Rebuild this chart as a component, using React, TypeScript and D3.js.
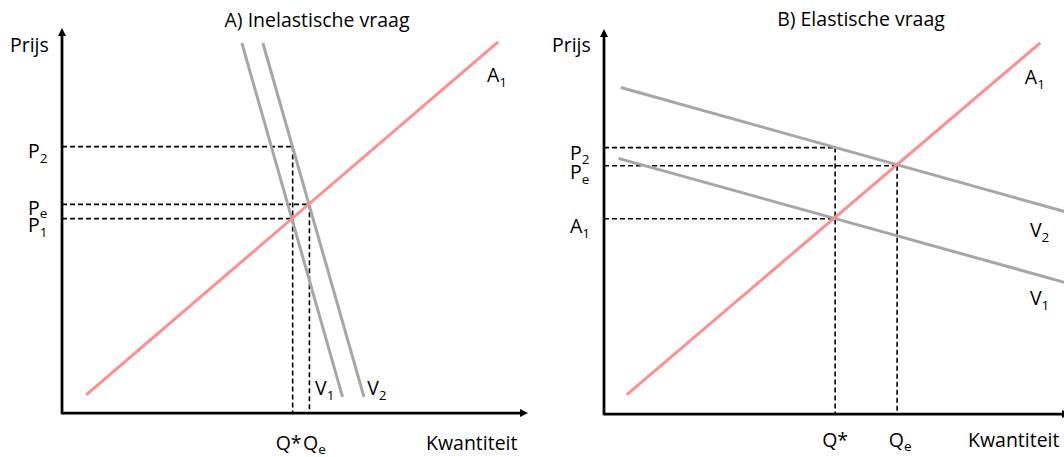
import React from "react";
import * as d3 from "d3";

// ---------------- DATA ----------------
// Panel A: inelastic demand (quantity q, price p on a 0..100 scale)
const titleA = "A) Inelastische vraag";
const supplyA = [{ q: 5.2, p: 4.7 }, { q: 93.6, p: 96.4 }];
const demandA1 = [{ q: 38.6, p: 96.1 }, { q: 60.2, p: 4.2 }];
const demandA2 = [{ q: 43.1, p: 96.1 }, { q: 64.8, p: 4.2 }];
const priceLevelsA = [
  { main: "P", sub: "2", p: 69.2, q: 49.5 },
  { main: "P", sub: "e", p: 54.2, q: 53.1 },
  { main: "P", sub: "1", p: 50.5, q: 49.5 },
];
const quantityLevelsA = [
  { main: "Q*", sub: "", q: 49.5, p: 69.2 },
  { main: "Q", sub: "e", q: 53.1, p: 54.2 },
];

// Panel B: elastic demand
const titleB = "B) Elastische vraag";
const supplyB = [{ q: 4.9, p: 5.05 }, { q: 93.6, p: 96.4 }];
const demandB1 = [{ q: 3.1, p: 66.4 }, { q: 100, p: 33.8 }];
const demandB2 = [{ q: 3.6, p: 84.8 }, { q: 100, p: 52.2 }];
const priceLevelsB = [
  { main: "P", sub: "2", p: 69.2, q: 49.6 },
  { main: "P", sub: "e", p: 64.5, q: 62.9 },
  { main: "A", sub: "1", p: 50.7, q: 49.6 },
];
const quantityLevelsB = [
  { main: "Q*", sub: "", q: 49.6, p: 69.2 },
  { main: "Q", sub: "e", q: 62.9, p: 64.5 },
];

const axisLabelY = "Prijs";
const axisLabelX = "Kwantiteit";
const supplyName = { main: "A", sub: "1" };
const demandNames = [{ main: "V", sub: "1" }, { main: "V", sub: "2" }];

// ---------------- LAYOUT / STYLE ----------------
const FONT = "'Open Sans', 'Noto Sans', sans-serif";
const FS = 19.5;
const SUB_FS = 13.5;
const SUPPLY_COLOR = "#FF8E8E";
const DEMAND_COLOR = "#A6A6A6";

type Pt = { q: number; p: number };
type Level = { main: string; sub: string; p: number; q: number };

const layoutA = {
  ox: 62, oy: 413,
  titleDx: 255, titleY: 27,
  priceDy: [11, 11, 13],
  priceSubDy: [5, 3, 5],
  qtyDx: [-4, 5],
  qtyDy: 37,
  supplyLabel: { q: 91.2, p: 86.0 },
  demandLabels: [{ q: 54.3, p: 4.7 }, { q: 65.5, p: 4.7 }],
};
const layoutB = {
  ox: 604, oy: 414,
  titleDx: 257, titleY: 26,
  priceDy: [12, 13, 14],
  priceSubDy: [4, 5, 5],
  qtyDx: [0, 3],
  qtyDy: 33,
  supplyLabel: { q: 90.3, p: 85.8 },
  demandLabels: [{ q: 91.4, p: 28.2 }, { q: 91.4, p: 45.9 }],
};

function Label({ x, y, main, sub, anchor = "start", subDy = 5 }: any) {
  return (
    <text x={x} y={y} textAnchor={anchor} fontFamily={FONT} fontSize={FS} fill="#000">
      {main}
      {sub ? (
        <tspan dy={subDy} fontSize={SUB_FS}>
          {sub}
        </tspan>
      ) : null}
    </text>
  );
}

function Panel({
  layout, title, supply, demand1, demand2, prices, quantities,
}: {
  layout: any; title: string; supply: Pt[]; demand1: Pt[]; demand2: Pt[];
  prices: Level[]; quantities: Level[];
}) {
  const { ox, oy } = layout;
  const x = d3.scaleLinear().domain([0, 100]).range([ox, ox + 466]);
  const y = d3.scaleLinear().domain([0, 100]).range([oy, oy - 385]);
  const line = d3
    .line<Pt>()
    .x((d) => x(d.q))
    .y((d) => y(d.p));

  const xEnd = x(100);
  const yEnd = y(100);
  const ah = 8, aw = 4;

  return (
    <g>
      {/* title */}
      <text x={ox + layout.titleDx} y={layout.titleY} textAnchor="middle" fontFamily={FONT} fontSize={FS}>
        {title}
      </text>
      {/* axis labels */}
      <text x={ox - 52} y={52} fontFamily={FONT} fontSize={FS}>
        {axisLabelY}
      </text>
      <text x={ox + 364} y={oy + layout.qtyDy} fontFamily={FONT} fontSize={FS}>
        {axisLabelX}
      </text>

      {/* dashed guides */}
      {prices.map((d, i) => (
        <line key={"h" + i} x1={x(0)} x2={x(d.q)} y1={y(d.p)} y2={y(d.p)}
          stroke="#000" strokeWidth={1.6} strokeDasharray="5,3" />
      ))}
      {quantities.map((d, i) => (
        <line key={"v" + i} x1={x(d.q)} x2={x(d.q)} y1={y(d.p)} y2={y(0)}
          stroke="#000" strokeWidth={1.6} strokeDasharray="5,3" />
      ))}

      {/* curves */}
      <path d={line(demand1) || ""} fill="none" stroke={DEMAND_COLOR} strokeWidth={3} />
      <path d={line(demand2) || ""} fill="none" stroke={DEMAND_COLOR} strokeWidth={3} />
      <path d={line(supply) || ""} fill="none" stroke={SUPPLY_COLOR} strokeWidth={3} />

      {/* axes */}
      <line x1={ox} y1={oy} x2={xEnd - ah + 1} y2={oy} stroke="#000" strokeWidth={2.75} />
      <line x1={ox} y1={oy + 1.3} x2={ox} y2={yEnd + ah - 1} stroke="#000" strokeWidth={2.75} />
      <path d={`M${xEnd},${oy} L${xEnd - ah},${oy - aw} L${xEnd - ah},${oy + aw} Z`} fill="#000" />
      <path d={`M${ox},${yEnd} L${ox - aw},${yEnd + ah} L${ox + aw},${yEnd + ah} Z`} fill="#000" />

      {/* price labels */}
      {prices.map((d, i) => (
        <Label key={"pl" + i} x={ox - 34} y={y(d.p) + layout.priceDy[i]} main={d.main} sub={d.sub}
          subDy={layout.priceSubDy[i]} />
      ))}
      {/* quantity labels */}
      {quantities.map((d, i) => (
        <Label key={"ql" + i} x={x(d.q) + layout.qtyDx[i]} y={oy + layout.qtyDy} main={d.main} sub={d.sub}
          anchor="middle" subDy={4} />
      ))}

      {/* curve labels */}
      <Label x={x(layout.supplyLabel.q)} y={y(layout.supplyLabel.p)} main={supplyName.main} sub={supplyName.sub} />
      {layout.demandLabels.map((d: Pt, i: number) => (
        <Label key={"dl" + i} x={x(d.q)} y={y(d.p)} main={demandNames[i].main} sub={demandNames[i].sub} />
      ))}
    </g>
  );
}

export default function App() {
  return (
    <svg
      width={1064}
      height={457}
      viewBox="0 0 1064 457"
      style={{ position: "absolute", left: 0, top: 0, background: "#fff" }}
    >
      <rect x={0} y={0} width={1064} height={457} fill="#fff" />
      <Panel layout={layoutA} title={titleA} supply={supplyA} demand1={demandA1} demand2={demandA2}
        prices={priceLevelsA} quantities={quantityLevelsA} />
      <Panel layout={layoutB} title={titleB} supply={supplyB} demand1={demandB1} demand2={demandB2}
        prices={priceLevelsB} quantities={quantityLevelsB} />
    </svg>
  );
}
